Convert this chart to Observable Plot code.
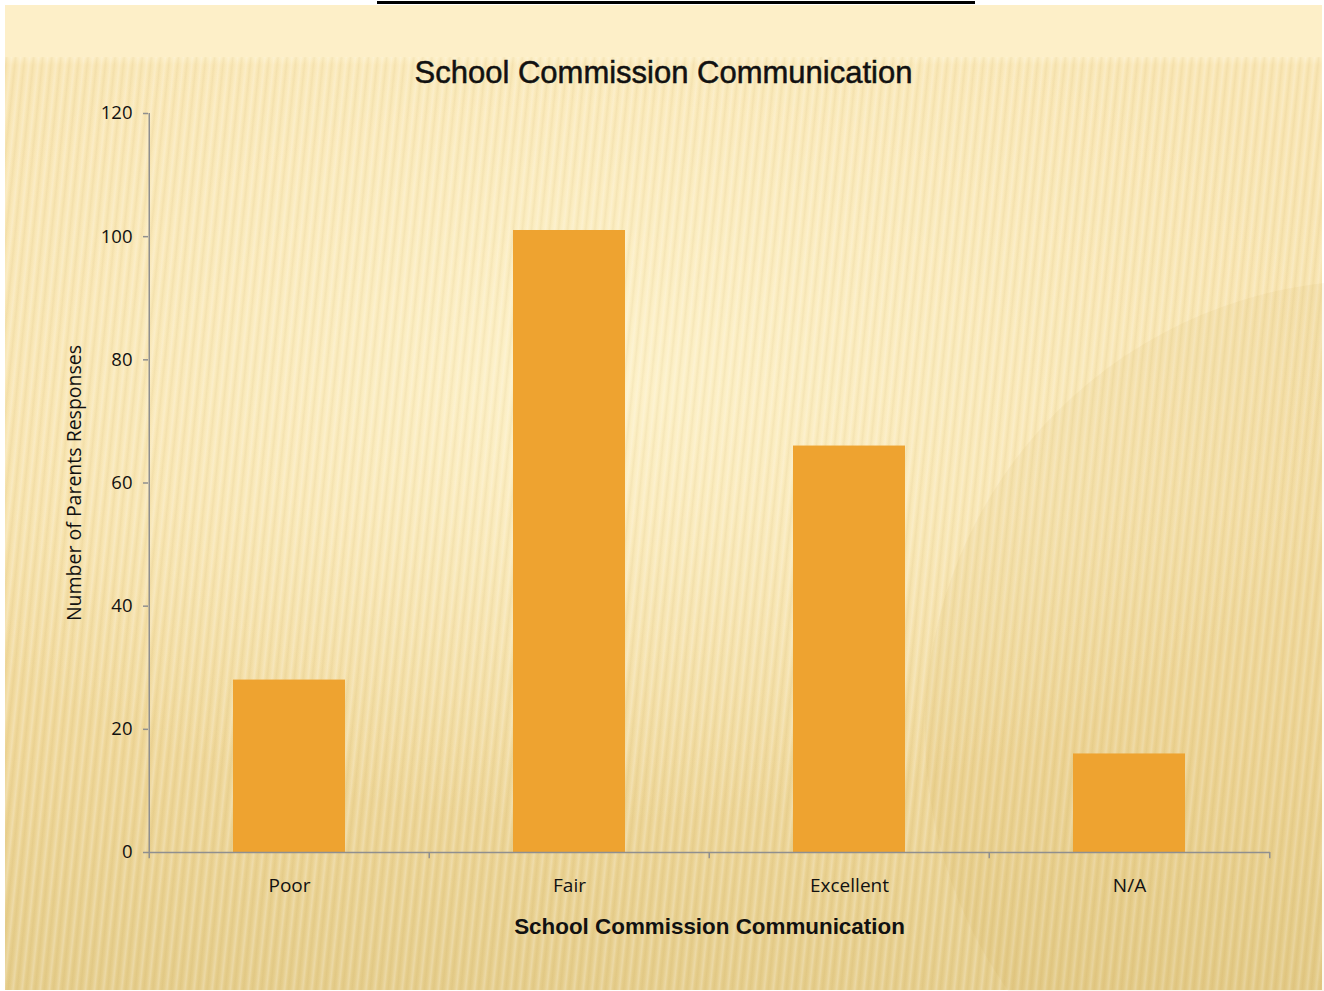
<!DOCTYPE html>
<html>
<head>
<meta charset="utf-8">
<script src="https://cdn.jsdelivr.net/npm/d3@7"></script>
<script src="https://cdn.jsdelivr.net/npm/@observablehq/plot@0.6"></script>
<style>
  html, body { margin: 0; padding: 0; background: #ffffff; }
  #page { position: relative; width: 1324px; height: 991px; overflow: hidden; background: #fff; }
  #topline { position: absolute; left: 377px; top: 1px; width: 598px; height: 3px; background: #000; }
  #panel {
    position: absolute; left: 5px; top: 5px; width: 1317px; height: 985px;
    background:
      repeating-linear-gradient(96deg, rgba(255,255,255,0) 0px, rgba(255,255,255,0.22) 3px, rgba(255,255,255,0) 5px, rgba(170,130,40,0.07) 7px, rgba(255,255,255,0) 9px),
      radial-gradient(ellipse 60% 45% at 45% 38%, rgba(255,246,210,0.75) 0%, rgba(255,246,210,0) 100%),
      linear-gradient(180deg, #fdefc8 0px, #fdefc8 50px, #f9e6b4 60px, #f6e0a8 500px, #efd799 750px, #e5cd8b 985px);
  }
  #panel::before {
    content: ""; position: absolute; left: 0; top: 0; width: 100%; height: 52px; background: #fdefc8;
  }
  #panel::after {
    content: ""; position: absolute; left: 920px; top: 275px; width: 900px; height: 900px; border-radius: 50%;
    background: rgba(200,160,60,0.07);
  }
  #title {
    position: absolute; left: 5px; width: 1317px; top: 55px; text-align: center;
    font-family: "Liberation Sans", Arial, sans-serif; font-size: 31px; color: #111;
    letter-spacing: 0px; -webkit-text-stroke: 0.5px #111;
  }
  #chart { position: absolute; left: 5px; top: 5px; }
</style>
</head>
<body>
<div id="page">
  <div id="topline"></div>
  <div id="panel"></div>
  <div id="title">School Commission Communication</div>
  <div id="chart"></div>
</div>
<script>
const categories = ["Poor", "Fair", "Excellent", "N/A"];
const responses = [28, 101, 66, 16];
const yTicks = [0, 20, 40, 60, 80, 100, 120];
const xTitle = "School Commission Communication";
const yTitle = "Number of Parents Responses";

const data = categories.map((c, i) => ({category: c, value: responses[i]}));

const W = 1317, H = 985;
const mL = 143, mR = 52, mT = 108, mB = 138;
const step = (W - mL - mR) / categories.length;
const axisColor = "#8f8f8f";

const plot = Plot.plot({
  width: W,
  height: H,
  marginLeft: mL,
  marginRight: mR,
  marginTop: mT,
  marginBottom: mB,
  style: {background: "transparent", fontFamily: "'Open Sans', 'DejaVu Sans', sans-serif", fontSize: "18px", color: "#111"},
  x: {domain: categories, paddingInner: 0.6, paddingOuter: 0.3},
  y: {domain: [0, 120]},
  marks: [
    Plot.barY(data, {x: "category", y: "value", fill: "#eea330"}),
    // y axis line and ticks
    Plot.axisY({ticks: yTicks, tickSize: 5, tickPadding: 11, stroke: axisColor, strokeWidth: 1.5, label: null, fontSize: 18.5, fill: "#111"}),
    Plot.ruleX(categories.slice(0, 1), {x: d => d, dx: -step / 2, stroke: axisColor, strokeWidth: 1.5}),
    Plot.text([yTitle], {frameAnchor: "left", rotate: -90, dx: -74, fontSize: 19.5, fill: "#111", textAnchor: "middle"}),
    // x axis
    Plot.ruleY([0], {stroke: axisColor, strokeWidth: 1.5}),
    Plot.ruleX(categories, {x: d => d, dx: -step / 2, y1: 0, y2: -1, stroke: axisColor, strokeWidth: 1.5}),
    Plot.ruleX(categories.slice(-1), {x: d => d, dx: step / 2, y1: 0, y2: -1, stroke: axisColor, strokeWidth: 1.5}),
    Plot.axisX({tickSize: 0, tickPadding: 26, label: null, fontSize: 19, fill: "#111"}),
    Plot.text([xTitle], {frameAnchor: "bottom", dy: 81, fontSize: 22.4, fontWeight: "bold", fill: "#111", fontFamily: "'Liberation Sans Narrow', 'Liberation Sans', sans-serif"})
  ]
});
document.getElementById("chart").appendChild(plot);
</script>
</body>
</html>
